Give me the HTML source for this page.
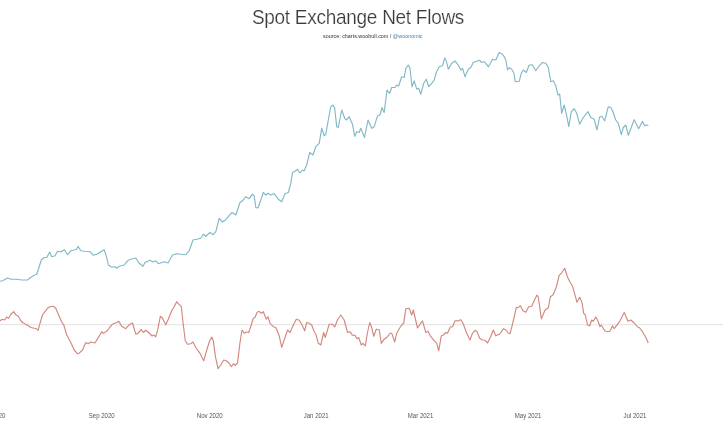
<!DOCTYPE html>
<html><head><meta charset="utf-8"><style>
html,body{margin:0;padding:0;background:#fff;}
body{width:723px;height:431px;position:relative;overflow:hidden;font-family:"Liberation Sans",sans-serif;}
.title{position:absolute;left:0;width:716px;letter-spacing:-0.28px;top:8px;text-align:center;font-size:19px;color:#3a3a3a;line-height:1;-webkit-text-stroke:0.2px #fff;filter:blur(0.3px);transform:scaleY(1.07);transform-origin:50% 15.5px;white-space:nowrap;}
.sub{filter:blur(0.25px);position:absolute;left:323px;top:34px;font-size:5.4px;color:#333;line-height:1;white-space:nowrap;}
.sub span{color:#4a7fb0;}
.lab{filter:blur(0.25px);position:absolute;width:80px;text-align:center;top:412.5px;font-size:6.9px;color:#555;line-height:1;white-space:nowrap;}
svg{position:absolute;left:0;top:0;filter:blur(0.3px);}
.lab span{display:inline-block;transform:scaleX(0.88);transform-origin:50% 50%;}
</style></head><body>
<svg width="723" height="431" viewBox="0 0 723 431">
<line x1="0" y1="324.7" x2="723" y2="324.7" stroke="#e8e8e8" stroke-width="1.3"/>
<polyline fill="none" stroke="#82b8c8" stroke-width="1.15" stroke-linejoin="round" points="0.0,281.3 2.5,280.8 7.5,278.0 10.8,279.2 16.7,279.2 21.7,280.0 27.5,280.0 30.0,278.0 33.3,275.8 36.7,274.2 39.2,266.7 41.3,260.0 44.2,257.5 46.7,257.5 49.7,252.0 51.7,256.7 55.0,255.8 57.5,251.3 60.8,252.0 64.2,249.7 67.5,254.7 70.8,250.8 74.2,250.0 76.7,249.2 78.0,246.3 80.8,250.8 85.0,251.3 90.0,251.7 93.3,255.3 96.7,254.2 104.2,249.7 106.7,257.5 108.3,265.0 111.7,267.0 115.0,266.7 116.7,268.3 119.2,266.3 124.2,265.0 127.5,260.8 130.8,259.2 135.8,258.0 139.2,263.3 143.0,266.3 145.0,262.5 150.0,260.3 153.3,262.0 155.8,260.8 158.3,263.7 164.2,261.7 168.0,263.0 172.5,255.0 176.7,253.7 180.8,254.2 185.8,254.7 189.2,250.8 193.0,240.0 196.7,239.2 200.8,238.3 203.3,234.2 205.8,236.3 210.0,232.5 213.3,234.7 215.8,231.7 219.2,218.3 222.5,222.0 225.8,219.7 230.0,214.7 232.0,212.5 235.8,215.0 240.0,202.5 242.5,200.8 245.8,196.7 249.2,198.7 252.5,194.2 254.2,195.8 255.8,207.5 258.0,208.0 260.8,200.0 263.3,192.5 265.8,195.0 268.0,193.3 270.8,195.0 274.2,193.7 278.3,199.2 281.7,201.7 285.0,193.7 288.3,192.5 290.8,183.3 292.5,172.5 295.8,170.8 297.5,169.2 300.0,173.0 302.5,170.0 304.2,170.8 306.7,165.0 309.7,152.5 313.0,155.0 315.8,146.7 319.2,143.3 321.7,128.3 324.2,135.8 325.8,134.2 328.3,120.0 330.8,106.7 333.0,105.0 334.7,108.3 336.7,126.7 338.3,127.5 341.7,110.0 344.7,118.3 346.3,120.0 349.2,116.7 352.5,124.2 354.7,136.3 356.7,131.7 359.2,132.5 360.8,128.3 364.5,137.5 368.0,120.0 371.7,128.3 374.2,126.7 377.5,115.8 380.0,115.0 382.0,107.5 384.2,112.5 387.0,90.0 389.7,93.3 391.7,87.5 395.0,87.5 396.7,85.0 398.7,85.8 401.7,76.7 404.2,77.5 405.8,68.3 408.3,65.0 410.0,68.3 412.0,86.7 414.2,80.8 416.7,89.2 418.7,88.3 420.8,94.2 423.7,83.3 426.3,79.2 428.7,86.7 431.7,83.3 434.2,80.0 436.3,72.5 439.2,66.7 442.5,65.8 444.7,58.0 446.3,60.8 448.3,69.2 451.7,63.3 455.0,61.0 457.0,63.3 458.7,65.8 460.8,70.0 462.5,68.3 465.0,76.7 468.3,69.2 470.8,67.5 473.3,62.5 476.7,61.3 479.7,60.3 481.7,62.5 484.2,61.7 485.8,63.3 488.3,66.7 490.8,62.5 492.5,59.2 495.8,60.0 499.2,52.5 501.7,53.7 504.2,56.7 505.8,60.0 507.5,70.0 509.2,67.5 511.7,69.2 513.7,72.5 515.3,81.7 519.2,81.3 521.3,73.3 523.3,70.0 526.3,72.5 529.2,65.0 532.2,64.8 535.8,70.8 539.2,65.8 542.5,62.5 545.8,63.3 548.3,67.5 550.8,81.7 553.3,80.8 555.8,85.8 558.0,95.0 559.7,94.2 561.7,113.3 564.2,105.0 566.7,115.8 568.8,126.7 571.3,111.7 574.2,108.7 576.7,113.3 579.7,124.2 583.3,117.5 588.0,111.7 590.8,117.5 594.2,119.2 597.0,130.0 599.6,117.0 601.7,116.3 604.7,120.8 608.3,106.7 610.8,107.5 612.5,110.8 615.8,120.0 618.3,123.3 621.3,134.7 623.3,127.5 625.8,125.0 628.3,135.3 634.2,119.7 638.7,128.7 642.5,121.3 644.7,125.8 647.0,125.0 648.3,125.8"/>
<polyline fill="none" stroke="#d2887d" stroke-width="1.15" stroke-linejoin="round" points="0.0,320.8 2.5,319.2 4.7,320.0 6.7,317.0 8.7,318.3 10.8,314.2 13.7,311.7 15.8,314.7 18.3,316.3 20.8,320.8 23.3,323.0 26.7,324.7 30.8,327.5 34.2,328.3 36.3,328.7 38.0,330.3 40.0,323.3 42.5,315.0 45.0,311.7 47.5,308.3 50.0,306.7 53.3,306.3 55.8,308.3 58.3,314.2 61.7,322.0 63.7,324.7 66.7,335.0 70.8,342.5 74.2,350.0 77.5,353.7 78.7,353.7 82.5,350.0 85.8,342.5 88.3,343.7 90.8,342.0 95.0,343.0 98.3,337.5 101.7,331.7 103.3,333.3 106.7,331.3 110.0,327.0 112.5,324.2 116.7,322.5 118.7,321.3 121.7,326.3 125.8,328.7 129.2,324.7 132.5,323.0 135.8,334.2 138.3,333.0 141.3,329.7 143.3,332.5 145.8,330.3 149.2,333.0 152.0,336.0 153.7,335.0 155.8,336.7 158.0,328.3 160.3,316.3 162.5,318.3 165.8,324.7 168.3,319.2 171.7,310.8 174.2,306.7 176.7,301.7 178.7,304.2 181.3,306.7 183.3,325.0 185.3,340.8 187.5,344.2 190.8,343.7 193.0,342.0 195.8,347.5 200.0,353.3 203.7,360.8 207.5,347.5 209.7,340.8 211.7,337.0 213.3,340.8 215.3,355.8 218.0,368.7 220.8,365.0 223.7,360.0 226.3,360.8 229.2,363.3 231.3,366.7 233.7,363.7 235.3,365.3 237.5,363.0 240.0,342.5 242.0,330.0 244.2,333.3 246.3,332.0 248.7,332.5 251.3,325.0 253.3,318.0 255.0,317.5 257.0,312.5 259.2,311.3 261.3,313.3 263.3,311.7 266.3,319.2 268.0,316.7 270.0,323.3 273.3,326.7 275.8,327.5 279.2,335.8 281.7,347.3 284.2,340.0 287.5,330.0 290.0,332.5 293.3,325.0 296.3,319.2 299.2,320.3 301.7,324.2 304.7,330.8 306.7,322.5 309.2,323.3 311.7,325.0 314.2,331.7 315.8,334.2 318.3,343.3 320.8,345.0 323.7,332.5 325.3,337.5 329.2,324.2 332.5,324.2 334.7,327.0 337.5,320.0 340.8,315.0 344.2,320.0 347.5,332.5 350.0,331.7 352.5,335.3 355.0,335.4 357.0,338.7 358.7,337.5 361.3,345.0 363.0,343.3 365.3,345.8 367.5,332.5 369.7,322.5 371.7,327.5 373.7,336.3 376.3,329.2 379.2,329.7 381.3,343.3 384.2,339.2 387.5,336.7 390.3,333.0 392.0,333.7 394.7,342.0 396.7,333.3 400.0,327.5 402.5,324.2 403.7,323.3 405.8,308.7 409.2,308.3 411.7,315.0 413.3,310.0 417.5,328.0 422.5,320.8 425.8,332.5 428.0,331.3 430.8,336.7 433.3,339.7 436.7,343.3 438.7,350.8 441.3,335.8 443.3,335.0 445.8,332.5 447.5,333.3 450.3,327.0 452.5,326.7 455.0,320.8 458.3,320.8 460.8,319.7 463.0,323.3 466.7,333.3 470.0,340.0 472.5,333.3 475.0,330.3 477.0,331.7 479.7,338.3 482.5,340.0 485.0,340.3 487.5,343.0 490.3,337.5 493.3,330.0 495.8,335.8 500.0,333.7 503.3,328.7 505.8,330.0 508.3,333.0 510.0,333.7 512.0,326.2 514.2,317.0 516.3,307.3 518.0,307.8 520.3,305.7 523.0,310.7 525.8,312.3 528.7,306.7 531.7,306.2 534.7,299.5 537.0,295.0 538.3,297.0 541.3,318.7 545.0,310.3 548.3,307.8 550.3,297.0 553.3,294.5 556.3,287.0 559.2,275.3 561.7,272.8 564.7,268.3 567.5,277.0 570.0,282.0 572.5,286.2 577.0,302.3 579.7,297.3 582.0,302.5 583.7,313.3 585.3,315.0 587.5,325.0 589.7,325.8 591.7,320.0 593.3,321.3 595.8,317.0 598.3,321.7 600.0,326.7 601.3,325.0 604.7,330.8 607.5,331.7 610.0,331.3 612.5,325.8 614.2,328.7 616.7,325.3 620.0,320.8 624.2,312.5 628.0,321.3 630.8,320.0 634.2,323.0 637.5,327.0 639.2,327.5 642.5,331.7 645.8,337.5 648.3,343.0"/>
</svg>
<div class="title">Spot Exchange Net Flows</div>
<div class="sub">source: charts.woobull.com / <span>@woonomic</span></div>
<div class="lab" style="left:-45.8px"><span>Jul 2020</span></div>
<div class="lab" style="left:62px"><span>Sep 2020</span></div>
<div class="lab" style="left:170px"><span>Nov 2020</span></div>
<div class="lab" style="left:276.5px"><span>Jan 2021</span></div>
<div class="lab" style="left:381px"><span>Mar 2021</span></div>
<div class="lab" style="left:488px"><span>May 2021</span></div>
<div class="lab" style="left:595px"><span>Jul 2021</span></div>
</body></html>
